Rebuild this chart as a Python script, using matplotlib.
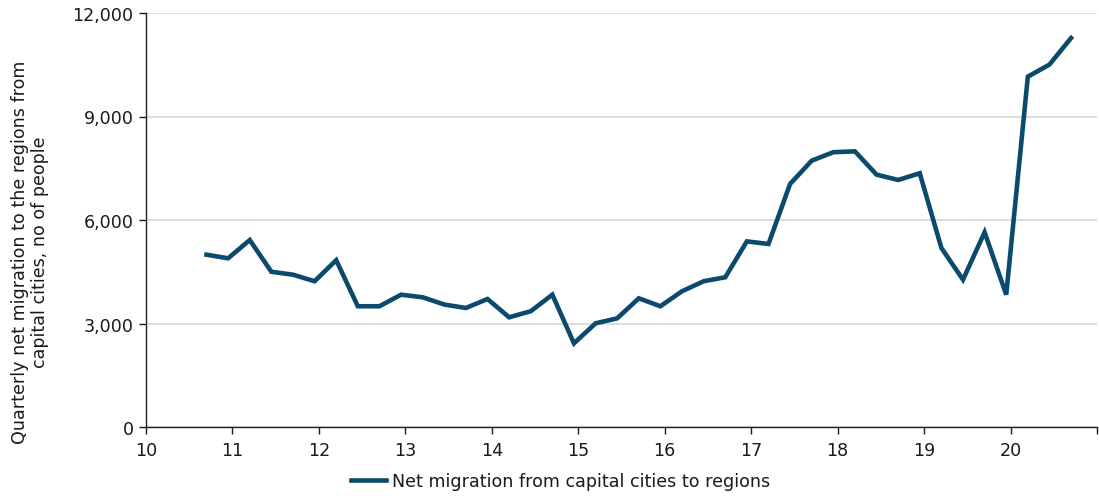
import numpy as np
import matplotlib.pyplot as plt
from matplotlib.ticker import FuncFormatter

plt.rcParams['font.family'] = ['DejaVu Sans']

# quarterly net migration from the capital cities to the regions, Sep-2010 .. Sep-2020
net_migration = [4995, 4890, 5420, 4500, 4415, 4225, 4835, 3500, 3500, 3835,
                 3760, 3550, 3450, 3710, 3180, 3355, 3835, 2425, 3005, 3150,
                 3730, 3500, 3935, 4225, 4340, 5380, 5305, 7045, 7720, 7965,
                 7990, 7315, 7160, 7355, 5190, 4270, 5645, 3835, 10155, 10505,
                 11275]
first_quarter = 10.7          # Sep quarter of 2010, in years since 2000
year_ticks = list(range(10, 22))
y_ticks = [0, 3000, 6000, 9000, 12000]

line_color = '#0b4a6d'
grid_color = '#d9d9d9'
text_color = '#1a1a1a'
fs = 12.6

quarters = first_quarter + 0.25 * np.arange(len(net_migration))

fig = plt.figure(figsize=(10.99, 5.02), dpi=100)
ax = fig.add_axes([146 / 1099, 1 - 428 / 502, (1097 - 146) / 1099, (428 - 14) / 502])

line, = ax.plot(quarters, net_migration, color=line_color, lw=3.3,
                solid_joinstyle='miter', label='Net migration from capital cities to regions')

ax.set_xlim(10, 21)
ax.set_ylim(0, 12000)
ax.set_xticks(year_ticks)
ax.set_xticklabels([str(y) if y < 21 else '' for y in year_ticks])
ax.set_yticks(y_ticks)
ax.yaxis.set_major_formatter(FuncFormatter(lambda v, _: f'{int(v):,}'))

ax.grid(axis='y', color=grid_color, lw=1.3)
ax.set_axisbelow(True)
for s in ['top', 'right']:
    ax.spines[s].set_visible(False)
for s in ['left', 'bottom']:
    ax.spines[s].set_color('#222222')
    ax.spines[s].set_linewidth(1.0)

ax.tick_params(axis='both', labelsize=fs, colors=text_color, length=5, width=1.0)
ax.tick_params(axis='x', pad=5)
ax.tick_params(axis='y', pad=4)

fig.text(30 / 1099, 1 - 252 / 502,
         'Quarterly net migration to the regions from\ncapital cities, no of people',
         rotation=90, ha='center', va='center', multialignment='center',
         fontsize=fs, color=text_color, linespacing=1.15)

fig.legend(handles=[line], loc='lower center', bbox_to_anchor=(0.51, -0.01),
           frameon=False, fontsize=fs, handlelength=2.0, handletextpad=0.3,
           labelcolor=text_color)

fig.savefig('out.png', dpi=100)
